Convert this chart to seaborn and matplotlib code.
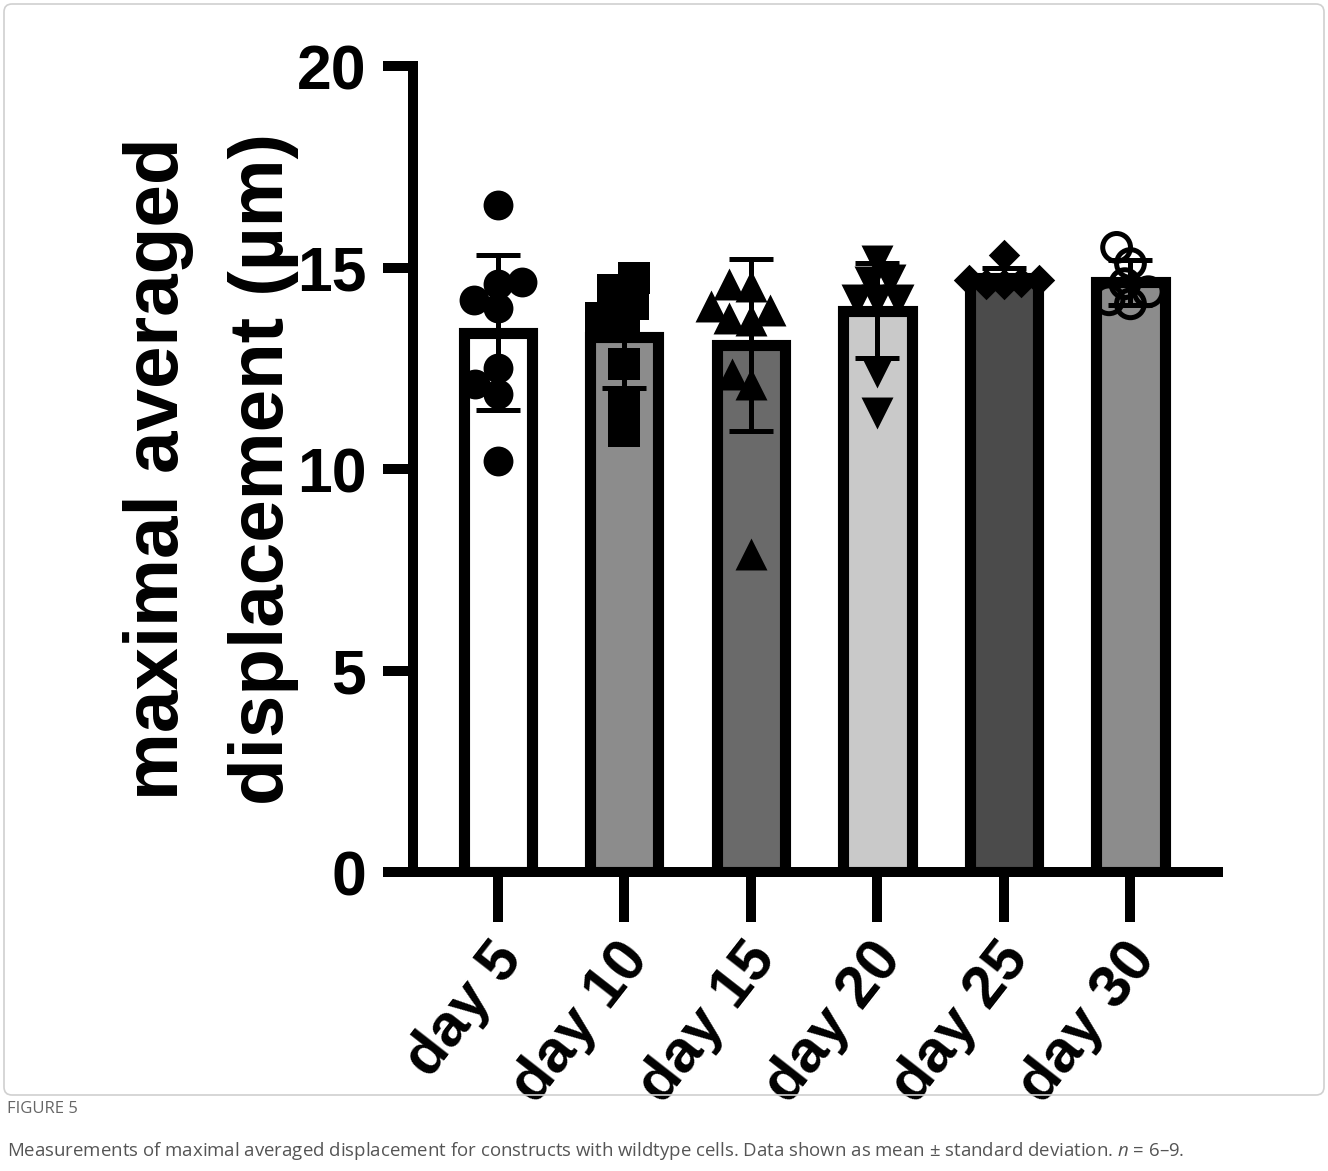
import matplotlib
matplotlib.use("Agg")
import matplotlib.pyplot as plt
import pandas as pd
import seaborn as sns
from matplotlib.patches import FancyBboxPatch
from matplotlib.transforms import ScaledTranslation

# values
categories = ["day 5", "day 10", "day 15", "day 20", "day 25", "day 30"]
bar_means = [13.38, 13.27, 13.08, 13.93, 14.75, 14.63]
bar_sds = [1.92, 1.27, 2.13, 1.18, 0.25, 0.55]
bar_colors = ["#ffffff", "#8c8c8c", "#6a6a6a", "#c9c9c9", "#4b4b4b", "#8c8c8c"]

day5_values = [16.55, 14.6, 14.65, 14.0, 14.2, 12.5, 12.1, 11.85, 10.2]
day10_values = [14.75, 14.45, 14.1, 13.75, 13.55, 12.6, 11.65, 10.95]
day15_values = [14.6, 14.55, 14.05, 13.95, 13.75, 13.7, 12.35, 12.1, 7.9]
day20_values = [15.15, 14.7, 14.65, 14.2, 14.2, 14.2, 12.4, 11.4]
day25_values = [15.3, 14.7, 14.65, 14.6, 14.7, 14.6]
day30_values = [15.5, 15.1, 14.6, 14.4, 14.2, 14.1]

point_values = [day5_values, day10_values, day15_values,
                day20_values, day25_values, day30_values]
point_markers = ["o", "s", "^", "v", "D", "o"]
point_sizes = [21.5, 23.5, 23.0, 23.0, 16.0, 20.0]
swarm_sizes = [17, 17, 15, 14, 12, 15]
point_open = [False, False, False, False, False, True]

sns.set_theme(style="ticks")
plt.rcParams["font.family"] = ["Liberation Sans", "DejaVu Sans"]
plt.rcParams["mathtext.fontset"] = "custom"
plt.rcParams["mathtext.rm"] = "Open Sans"
plt.rcParams["mathtext.it"] = "Open Sans:italic"
for key in ["text.color", "axes.labelcolor", "axes.edgecolor",
            "xtick.color", "ytick.color"]:
    plt.rcParams[key] = "black"

fig = plt.figure(figsize=(13.28, 11.71), dpi=100)
ax = fig.add_axes([0.311, 0.2553, 0.606, 0.6883])

sns.barplot(x=categories, y=bar_means, hue=categories, palette=bar_colors,
            order=categories, legend=False, width=0.54, edgecolor="black",
            linewidth=8, saturation=1, ax=ax, zorder=1)

ax.errorbar(range(len(categories)), bar_means, yerr=bar_sds, fmt="none",
            ecolor="black", elinewidth=3.6, capsize=16, capthick=3.6, zorder=3)

# swarm layout is computed with a smaller marker, then the markers are enlarged
swarm_colls = []
for cat, vals, mk, ms, sw, hollow in zip(categories, point_values, point_markers,
                                         point_sizes, swarm_sizes, point_open):
    df = pd.DataFrame({"day": cat, "value": vals})
    n_before = len(ax.collections)
    sns.swarmplot(data=df, x="day", y="value", order=categories, marker=mk,
                  color="black", size=sw, ax=ax, zorder=4, warn_thresh=1)
    for coll in ax.collections[n_before:]:
        if len(coll.get_offsets()) > 0:
            swarm_colls.append((coll, ms, hollow))

ax.set_xlim(-0.67, 5.69)
ax.set_ylim(0, 20)
ax.set_yticks([0, 5, 10, 15, 20])
fig.canvas.draw()
for coll, ms, hollow in swarm_colls:
    if "draw" in coll.__dict__:
        del coll.draw
    coll.set_sizes([ms ** 2])
    if hollow:
        coll.set_facecolor("none")
        coll.set_edgecolor("black")
        coll.set_linewidth(3.6)

sns.despine(ax=ax)
for side in ["left", "bottom"]:
    ax.spines[side].set_linewidth(7.2)
ax.tick_params(axis="y", length=21.6, width=7.2, pad=12, labelsize=45)
ax.tick_params(axis="x", length=36, width=7.2, pad=20, labelsize=43)
for lbl in ax.get_yticklabels():
    lbl.set_fontweight("bold")
shift_right = ScaledTranslation(0.14, 0, fig.dpi_scale_trans)
for lbl in ax.get_xticklabels():
    lbl.set_fontweight("bold")
    lbl.set_rotation(52)
    lbl.set_ha("right")
    lbl.set_va("center")
    lbl.set_rotation_mode("anchor")
    lbl.set_transform(lbl.get_transform() + shift_right)

ax.set_xlabel("")
ax.set_ylabel("maximal averaged\ndisplacement (µm)", fontsize=55,
              fontweight="bold", linespacing=1.62)
ax.yaxis.set_label_coords(-0.142, 0.5)

# panel frame and caption
frame = FancyBboxPatch((0.04, 0.76), 13.2, 10.91,
                       boxstyle="round,pad=0,rounding_size=0.08",
                       transform=fig.dpi_scale_trans, fill=False,
                       edgecolor="#d0d0d0", linewidth=1.2)
fig.patches.append(frame)
fig.text(7 / 1328, 1 - 1109 / 1171, "FIGURE 5", fontsize=12,
         family="Open Sans", color="#666666", va="center")
fig.text(7 / 1328, 1 - 1151 / 1171,
         "Measurements of maximal averaged displacement for constructs with "
         "wildtype cells. Data shown as mean ± standard deviation. "
         "$\\mathit{n}$ = 6–9.",
         fontsize=13.4, family="Open Sans", color="#555555", va="center")

fig.savefig("out.png", dpi=100)
